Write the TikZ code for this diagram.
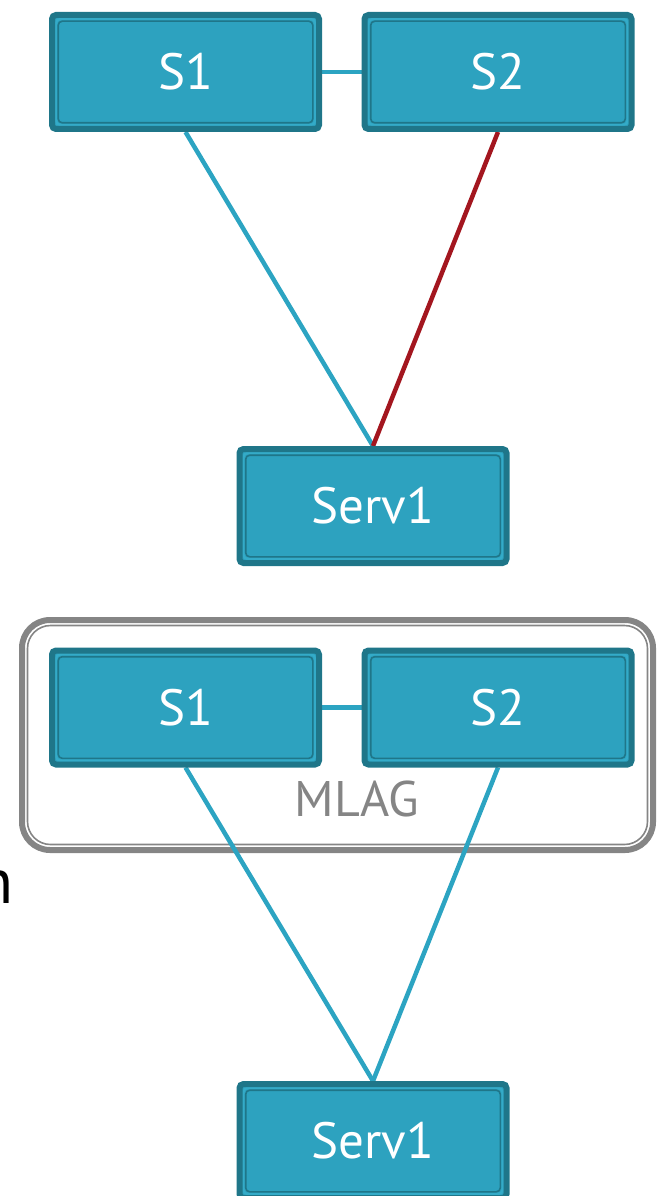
\documentclass[tikz,border=0pt]{standalone}
\usepackage{fontspec}
\setmainfont{PT Sans}
\usetikzlibrary{backgrounds}
\pgfdeclarelayer{back}
\pgfsetlayers{back,background,main}
\definecolor{boxfill}{HTML}{2DA2BF}
\definecolor{boxdark}{HTML}{1F7689}
\definecolor{boxlight}{HTML}{34ABC8}
\definecolor{linkblue}{HTML}{2CA4C2}
\definecolor{linkred}{HTML}{A3161F}
\definecolor{mlaggray}{HTML}{858585}
\tikzset{
  devbox/.style={rectangle, rounded corners=4pt, fill=boxfill, draw=boxdark,
    line width=6pt, minimum width=267pt, minimum height=114pt, inner sep=0pt,
    text=white, font=\fontsize{51}{51}\selectfont,
    path picture={
      \draw[boxlight, line width=2.2pt]
        ([shift={(4pt,-4pt)}]path picture bounding box.north west) rectangle
        ([shift={(-4pt,4pt)}]path picture bounding box.south east);
      \draw[boxdark, line width=1.6pt]
        ([shift={(6.2pt,-6.2pt)}]path picture bounding box.north west) rectangle
        ([shift={(-6.2pt,6.2pt)}]path picture bounding box.south east);
    }},
  link/.style={linkblue, line width=4.5pt},
  badlink/.style={linkred, line width=4.5pt},
  groupbox/.style={rectangle, rounded corners=28pt, draw=mlaggray, line width=6pt,
    minimum width=631pt, minimum height=230pt, inner sep=0pt,
    path picture={
      \draw[mlaggray, line width=1.6pt, rounded corners=23pt]
        ([shift={(5.5pt,-5.5pt)}]path picture bounding box.north west) rectangle
        ([shift={(-5.5pt,5.5pt)}]path picture bounding box.south east);
    }},
  grouplabel/.style={text=mlaggray, font=\fontsize{50}{50}\selectfont, inner sep=0pt}
}
\begin{document}
\begin{tikzpicture}[x=1pt, y=-1pt]
\useasboundingbox (0,0) rectangle (657,1196);

% upper arrangement: two switches, one server, one failed uplink
\node[devbox] (s1a) at (185.5,72) {S1};
\node[devbox] (s2a) at (498,72) {S2};
\node[devbox] (sva) at (373,506) {Serv1};

% lower arrangement: the two switches grouped as an MLAG pair
\node[devbox] (s1b) at (185.5,707.5) {S1};
\node[devbox] (s2b) at (498,707.5) {S2};
\node[devbox] (svb) at (373,1141) {Serv1};

\begin{pgfonlayer}{back}
  \node[groupbox] (mlag) at (337.5,735) {};
\end{pgfonlayer}
\node[grouplabel, anchor=base] (mlagtext) at (357,816) {MLAG};

\node[anchor=base east, inner sep=0pt, font=\fontsize{64}{64}\selectfont] (cut) at (14,903) {n};

\begin{scope}[on background layer]
  \draw[link] (s1a.east) -- (s2a.west);
  \draw[link] (s1a.south) -- (sva.north);
  \draw[badlink] (s2a.south) -- (sva.north);
  \draw[link] (s1b.east) -- (s2b.west);
  \draw[link] (s1b.south) -- (svb.north);
  \draw[link] (s2b.south) -- (svb.north);
\end{scope}
\end{tikzpicture}
\end{document}
